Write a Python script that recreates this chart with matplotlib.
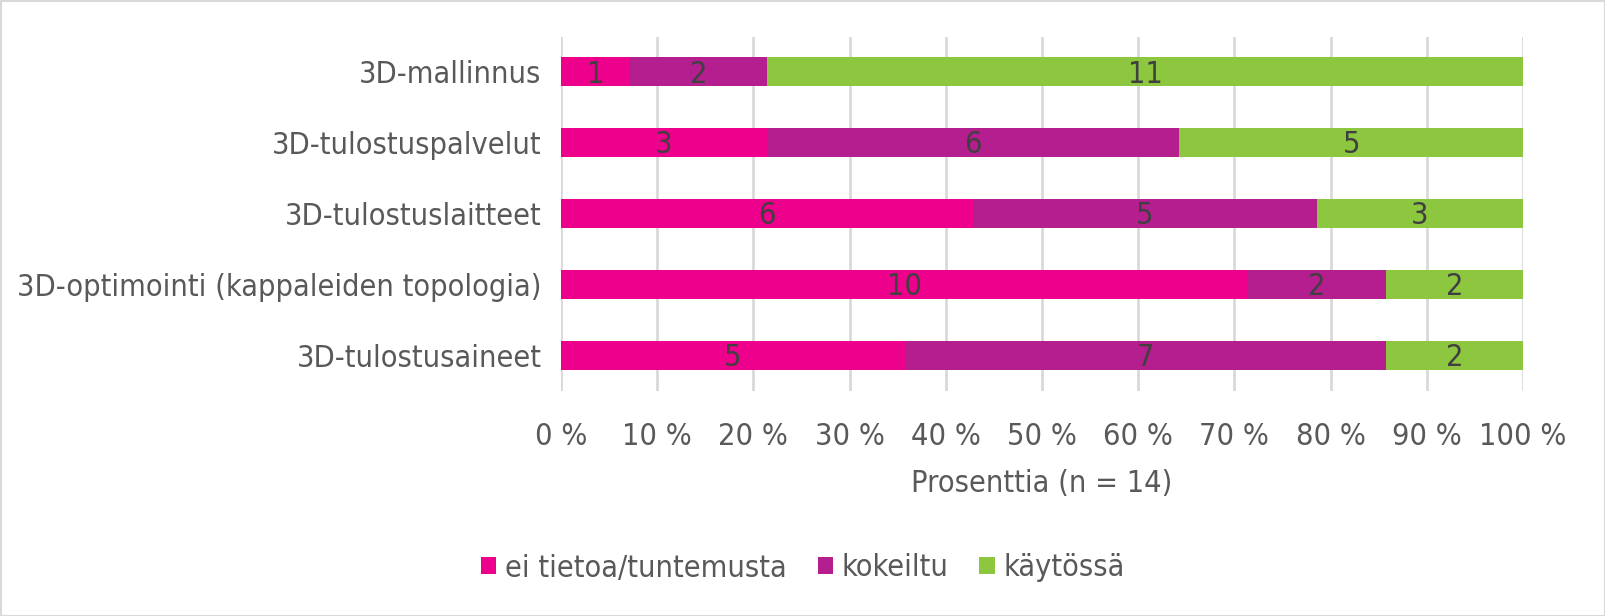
import matplotlib
matplotlib.use('Agg')
import matplotlib.pyplot as plt
import numpy as np
from matplotlib.patches import Rectangle

# Data (counts, n = 14)
categories = ['3D-mallinnus', '3D-tulostuspalvelut', '3D-tulostuslaitteet',
              '3D-optimointi (kappaleiden topologia)', '3D-tulostusaineet']
series_names = ['ei tietoa/tuntemusta', 'kokeiltu', 'käytössä']
ei_tietoa = [1, 3, 6, 10, 5]
kokeiltu = [2, 6, 5, 2, 7]
kaytossa = [11, 5, 3, 2, 2]
n_total = 14
x_ticks = [0, 10, 20, 30, 40, 50, 60, 70, 80, 90, 100]

colors = ['#EC008C', '#B41E8E', '#8DC63F']
text_col = '#595959'
label_col = '#404040'
fs = 22

plt.rcParams['font.family'] = ['DejaVu Sans']
plt.rcParams['font.stretch'] = 'condensed'

W, H = 1606, 616
fig = plt.figure(figsize=(W / 100, H / 100), dpi=100)
fig.patches.append(Rectangle((0.5 / W, 0.5 / H), 1 - 1.5 / W, 1 - 1.5 / H,
                             transform=fig.transFigure, fill=False,
                             edgecolor='#D9D9D9', lw=1.5))

ax_l, ax_r = 561 / W, 1523 / W
ax_t, ax_b = 36.5 / H, 391 / H
ax = fig.add_axes([ax_l, 1 - ax_b, ax_r - ax_l, ax_b - ax_t])

y = np.arange(len(categories))
left = np.zeros(len(categories))
for name, vals, c in zip(series_names, [ei_tietoa, kokeiltu, kaytossa], colors):
    pct = np.array(vals) / n_total * 100
    ax.barh(y, pct, left=left, height=0.41, color=c, label=name, zorder=3)
    for yi, l, p, v in zip(y, left, pct, vals):
        ax.text(l + p / 2, yi + 0.03, str(v), ha='center', va='center',
                fontsize=fs, color=label_col, zorder=4)
    left += pct

ax.set_xlim(0, 100)
ax.set_ylim(len(categories) - 0.5, -0.5)
ax.set_xticks(x_ticks)
ax.set_xticklabels([f'{t} %' for t in x_ticks], fontsize=fs, color=text_col)
ax.set_yticks(y)
ax.set_yticklabels(categories, fontsize=fs, color=text_col)
ax.tick_params(axis='both', length=0)
ax.tick_params(axis='x', pad=22)
ax.tick_params(axis='y', pad=14)
ax.grid(axis='x', color='#D9D9D9', lw=2, zorder=0)
for s in ax.spines.values():
    s.set_visible(False)
ax.set_xlabel(f'Prosenttia (n = {n_total})', fontsize=fs, color=text_col,
              labelpad=13)

leg = fig.legend(loc='center', bbox_to_anchor=(0.5, 1 - 568 / H), ncol=3,
                 frameon=False, fontsize=fs, handlelength=0.5, handleheight=0.5,
                 handletextpad=0.3, columnspacing=1.0)
for t in leg.get_texts():
    t.set_color(text_col)

fig.savefig('out.png', dpi=100)
